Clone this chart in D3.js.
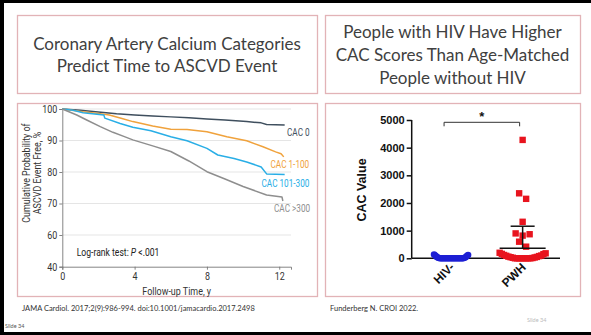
<!DOCTYPE html>
<html><head><meta charset="utf-8">
<script src="https://cdn.jsdelivr.net/npm/d3@7"></script>
<style>
html,body{margin:0;padding:0;background:#fff;}
svg{display:block;}
</style></head><body>
<svg id="c" width="591" height="335"></svg>
<script>
// ---------------- DATA ----------------
const titleLeft = ["Coronary Artery Calcium Categories", "Predict Time to ASCVD Event"];
const titleRight = ["People with HIV Have Higher", "CAC Scores Than Age-Matched", "People without HIV"];

// Kaplan-Meier curves: [year, % event free]
const kmXTicks = [0, 4, 8, 12];
const kmYTicks = [40, 60, 70, 80, 90, 100];
const kmGrid = [60, 70, 80, 90, 100];
const cac0 = [[0,100],[1,99.6],[1.7,99.2],[3,98.5],[4,98.1],[5,97.8],[6,97.5],[7,97.2],[8,96.8],[9,96.5],[10.2,96.0],[11,95.6],[11.3,95.1],[12.3,94.9]];
const cac1to100 = [[0,100],[1.15,99.1],[2,98.6],[2.6,98.1],[3.3,97],[3.9,96],[5,94.6],[6,93.6],[6.9,93.5],[8,92.8],[9.1,91.2],[10.2,89.9],[11.1,88],[11.8,86.4],[12.1,85.8],[12.25,84.8]];
const cac101to300 = [[0,100],[0.6,99.6],[1.15,98.8],[2.3,98.1],[2.35,97.1],[3.2,95.4],[3.9,94.2],[4.9,93.1],[6,91.2],[6.9,89.9],[8,87.5],[8.6,85.4],[9.5,84.3],[10.2,83.2],[11,81.6],[11.3,79.4],[12.3,79.2]];
const cacOver300 = [[0,100],[0.8,98.1],[1.35,96.5],[2.1,94.4],[2.8,92.6],[3.4,91.3],[3.9,90.2],[5,88.3],[6,86.5],[7,83.5],[8,80.1],[9,77.8],[10,75.4],[11.3,72.7],[12.15,72.1],[12.2,70.8]];
const kmSeriesNames = ["CAC 0", "CAC 1-100", "CAC 101-300", "CAC >300"];

// CAC scatter
const cacCategories = ["HIV-", "PWH"];
const cacYTicks = [0, 1000, 2000, 3000, 4000, 5000];
const hivNegValues = [0,0,0,0,0,0,0,0,0,0,0,0,0,0,0,0,0,0,0,0,10,20,30,40,60,80,100,120,140];
const pwhValues = [4280,2350,2150,1320,900,870,820,600,420,200,180,160,150,120,100,90,80,60,50,40,30,20,10,0,0,0,0,0,0,0,0];
const pwhMean = 360;
const pwhUpper = 1160;

// ---------------- DRAW ----------------
const svg = d3.select("#c");
const TITLE_FONT = "Lato, 'Open Sans', sans-serif";
const NARROW = "Roboto, 'Liberation Sans', sans-serif";
const ARIAL = "'Liberation Sans', Arial, sans-serif";
const pink = "#e2b3b7";

function narrow(sel, f){
  sel.each(function(){
    const L = this.getComputedTextLength();
    if (L > 0) d3.select(this).attr("textLength", L*f).attr("lengthAdjust","spacingAndGlyphs");
  });
}

svg.append("rect").attr("width",591).attr("height",335).attr("fill","#fff");
// slide frame
svg.append("rect").attr("x",0).attr("y",0).attr("width",4).attr("height",335).attr("fill","#000");
svg.append("rect").attr("x",0).attr("y",0).attr("width",591).attr("height",3).attr("fill","#000");
svg.append("rect").attr("x",0).attr("y",332).attr("width",591).attr("height",3).attr("fill","#000");

// boxes
const boxes = [[17,15,300,78],[325,15,255,78],[17,103,300,193],[325,103,255,193]];
boxes.forEach(b => svg.append("rect").attr("x",b[0]+0.5).attr("y",b[1]+0.5).attr("width",b[2]).attr("height",b[3])
  .attr("fill","none").attr("stroke",pink).attr("stroke-width",1.3));

// titles
svg.append("g").selectAll("text").data(titleLeft).join("text")
  .attr("x",167).attr("y",(d,i)=>50+i*22).attr("text-anchor","middle")
  .attr("font-family",TITLE_FONT).attr("font-size",17).attr("fill","#404040").text(d=>d);
svg.append("g").selectAll("text").data(titleRight).join("text")
  .attr("x",452.5).attr("y",(d,i)=>38+i*23).attr("text-anchor","middle")
  .attr("font-family",TITLE_FONT).attr("font-size",17).attr("fill","#404040").text(d=>d);

// ---- KM chart ----
const kx = d3.scaleLinear().domain([0,12.65]).range([62.3,291]);
const ky = d3.scaleLinear().domain([40,60,100]).range([266.7,235,109]);
const km = svg.append("g");
km.append("g").selectAll("line").data(kmGrid).join("line")
  .attr("x1",kx(0)).attr("x2",kx(12.65)).attr("y1",d=>ky(d)).attr("y2",d=>ky(d))
  .attr("stroke","#dedede").attr("stroke-width",0.8);

const kyAxis = km.append("g").attr("transform",`translate(${kx(0)},0)`)
  .call(d3.axisLeft(ky).tickValues(kmYTicks).tickSize(3).tickPadding(2).tickFormat(d3.format("d")));
const kxAxis = km.append("g").attr("transform",`translate(0,${ky(40)})`)
  .call(d3.axisBottom(kx).tickValues(kmXTicks).tickSize(3).tickPadding(3).tickFormat(d3.format("d")));
[kyAxis,kxAxis].forEach(a=>{
  a.selectAll("path").attr("stroke","#777").attr("stroke-width",0.9);
  a.selectAll("line").attr("stroke","#777").attr("stroke-width",0.9);
  a.selectAll("text").attr("font-family",NARROW).attr("font-size",10.5).attr("fill","#333");
  narrow(a.selectAll("text"), 0.85);
});

const kmColors = ["#3f4f5e","#f0a23c","#29aee6","#8e8e8e"];
const kmData = [cac0, cac1to100, cac101to300, cacOver300];
const line = d3.line().x(d=>kx(d[0])).y(d=>ky(d[1]));
km.append("g").selectAll("path").data(kmData).join("path")
  .attr("d",line).attr("fill","none").attr("stroke",(d,i)=>kmColors[i]).attr("stroke-width",1.5)
  .attr("stroke-linejoin","round");

const kmLabelPos = [[287,136],[270.5,167.5],[261.5,187],[274,212]];
const kmLabels = km.append("g").selectAll("text").data(kmSeriesNames).join("text")
  .attr("x",(d,i)=>kmLabelPos[i][0]).attr("y",(d,i)=>kmLabelPos[i][1])
  .attr("font-family",NARROW).attr("font-size",10).attr("fill",(d,i)=>kmColors[i]).text(d=>d);
narrow(kmLabels, 0.82);

const kt = [];
kt.push(km.append("text").attr("x",176.7).attr("y",295).attr("text-anchor","middle")
  .attr("font-family",NARROW).attr("font-size",10.5).attr("fill","#333").text("Follow-up Time, y"));
kt.push(km.append("text").attr("transform","translate(30,173) rotate(-90)").attr("text-anchor","middle")
  .attr("font-family",NARROW).attr("font-size",10.5).attr("fill","#333").text("Cumulative Probability of"));
kt.push(km.append("text").attr("transform","translate(41,173) rotate(-90)").attr("text-anchor","middle")
  .attr("font-family",NARROW).attr("font-size",10.5).attr("fill","#333").text("ASCVD Event Free, %"));
kt.forEach(t=>narrow(t,0.85));
const lr = km.append("g").attr("transform","translate(76.7,255.5) scale(0.86,1)")
  .append("text").attr("x",0).attr("y",0)
  .attr("font-family",NARROW).attr("font-size",10).attr("fill","#222");
lr.append("tspan").text("Log-rank test: ");
lr.append("tspan").attr("font-style","italic").text("P");
lr.append("tspan").text(" <.001");

// ---- CAC scatter ----
const sx = d3.scalePoint().domain(cacCategories).range([411.7,562]).padding(0.55);
const sy = d3.scaleLinear().domain([0,5000]).range([258.3,120]);
const sc = svg.append("g");

function swarm(values, thresholdPx, maxHalf, size){
  const sorted = values.map((v,i)=>({v,i})).sort((a,b)=>a.v-b.v);
  const groups = [];
  sorted.forEach(p=>{
    const g = groups[groups.length-1];
    if(g && Math.abs(sy(p.v)-sy(g[g.length-1].v)) < thresholdPx) g.push(p); else groups.push([p]);
  });
  const out = [];
  groups.forEach(g=>{
    const n = g.length;
    const step = n>1 ? Math.min(size, 2*maxHalf/(n-1)) : 0;
    const slots = d3.range(n).map(i=>(i-(n-1)/2)*step)
      .sort((a,b)=>Math.abs(a)-Math.abs(b) || b-a);
    g.forEach((p,k)=>out.push({v:p.v, dx:slots[k]}));
  });
  return out;
}

const yAx = sc.append("g").attr("transform",`translate(${sx.range()[0]},0)`)
  .call(d3.axisLeft(sy).tickValues(cacYTicks).tickSize(5).tickPadding(2).tickSizeOuter(0).tickFormat(d3.format("d")));
yAx.selectAll("path").attr("stroke","#111").attr("stroke-width",1.5);
yAx.selectAll("line").attr("stroke","#111").attr("stroke-width",1.5);
yAx.selectAll("text").attr("font-family",ARIAL).attr("font-weight","bold").attr("font-size",11).attr("fill","#111");
yAx.select("path").attr("d",`M0,${sy(5000)}V${sy(0)}`);

sc.append("line").attr("x1",sx.range()[0]).attr("x2",560).attr("y1",sy(0)).attr("y2",sy(0))
  .attr("stroke","#111").attr("stroke-width",1.5);

sc.append("text").attr("transform","translate(366,190) rotate(-90)").attr("text-anchor","middle")
  .attr("font-family",ARIAL).attr("font-weight","bold").attr("font-size",12.5).attr("fill","#111").text("CAC Value");

sc.append("g").selectAll("text").data(cacCategories).join("text")
  .attr("transform",d=>`translate(${sx(d)+4},268) rotate(-45)`).attr("text-anchor","end")
  .attr("font-family",ARIAL).attr("font-weight","bold").attr("font-size",12).attr("fill","#111").text(d=>d);

// HIV- points
sc.append("g").selectAll("circle").data(swarm(hivNegValues, 50, 17, 7)).join("circle")
  .attr("cx",d=>sx("HIV-")+d.dx).attr("cy",d=>sy(d.v)).attr("r",3.3).attr("fill","#1d1fd4");
// PWH points
sc.append("g").selectAll("rect").data(swarm(pwhValues, 6, 23, 7)).join("rect")
  .attr("x",d=>sx("PWH")+d.dx-3.2).attr("y",d=>sy(d.v)-3.2).attr("width",6.4).attr("height",6.4).attr("fill","#e8141e");

// PWH mean and SD
const cx = sx("PWH");
sc.append("line").attr("x1",cx-23).attr("x2",cx+23).attr("y1",sy(pwhMean)).attr("y2",sy(pwhMean)).attr("stroke","#111").attr("stroke-width",1.5);
sc.append("line").attr("x1",cx).attr("x2",cx).attr("y1",sy(pwhMean)).attr("y2",sy(pwhUpper)).attr("stroke","#111").attr("stroke-width",1.5);
sc.append("line").attr("x1",cx-12).attr("x2",cx+12).attr("y1",sy(pwhUpper)).attr("y2",sy(pwhUpper)).attr("stroke","#111").attr("stroke-width",1.5);

// significance bracket
const bx1 = sx("HIV-")-7, bx2 = sx("PWH")-3, by = 122.3;
sc.append("path").attr("d",`M${bx1},${by+4}V${by}H${bx2}V${by+4}`).attr("fill","none").attr("stroke","#333").attr("stroke-width",1);
sc.append("text").attr("x",(bx1+bx2)/2).attr("y",by-1).attr("text-anchor","middle")
  .attr("font-family",ARIAL).attr("font-weight","bold").attr("font-size",13).attr("fill","#111").text("*");

// footers
svg.append("text").attr("x",22).attr("y",311).attr("font-family",TITLE_FONT).attr("font-size",7.5).attr("fill","#333")
  .text("JAMA Cardiol. 2017;2(9):986-994. doi:10.1001/jamacardio.2017.2498");
svg.append("text").attr("x",330).attr("y",311).attr("font-family",TITLE_FONT).attr("font-size",7.5).attr("fill","#333")
  .text("Funderberg N. CROI 2022.");
svg.append("text").attr("x",5).attr("y",328).attr("font-family",TITLE_FONT).attr("font-size",5.5).attr("fill","#555").text("Slide 34");
svg.append("text").attr("x",527).attr("y",322).attr("font-family",TITLE_FONT).attr("font-size",5.5).attr("fill","#bbb").text("Slide 34");
</script>
</body></html>
